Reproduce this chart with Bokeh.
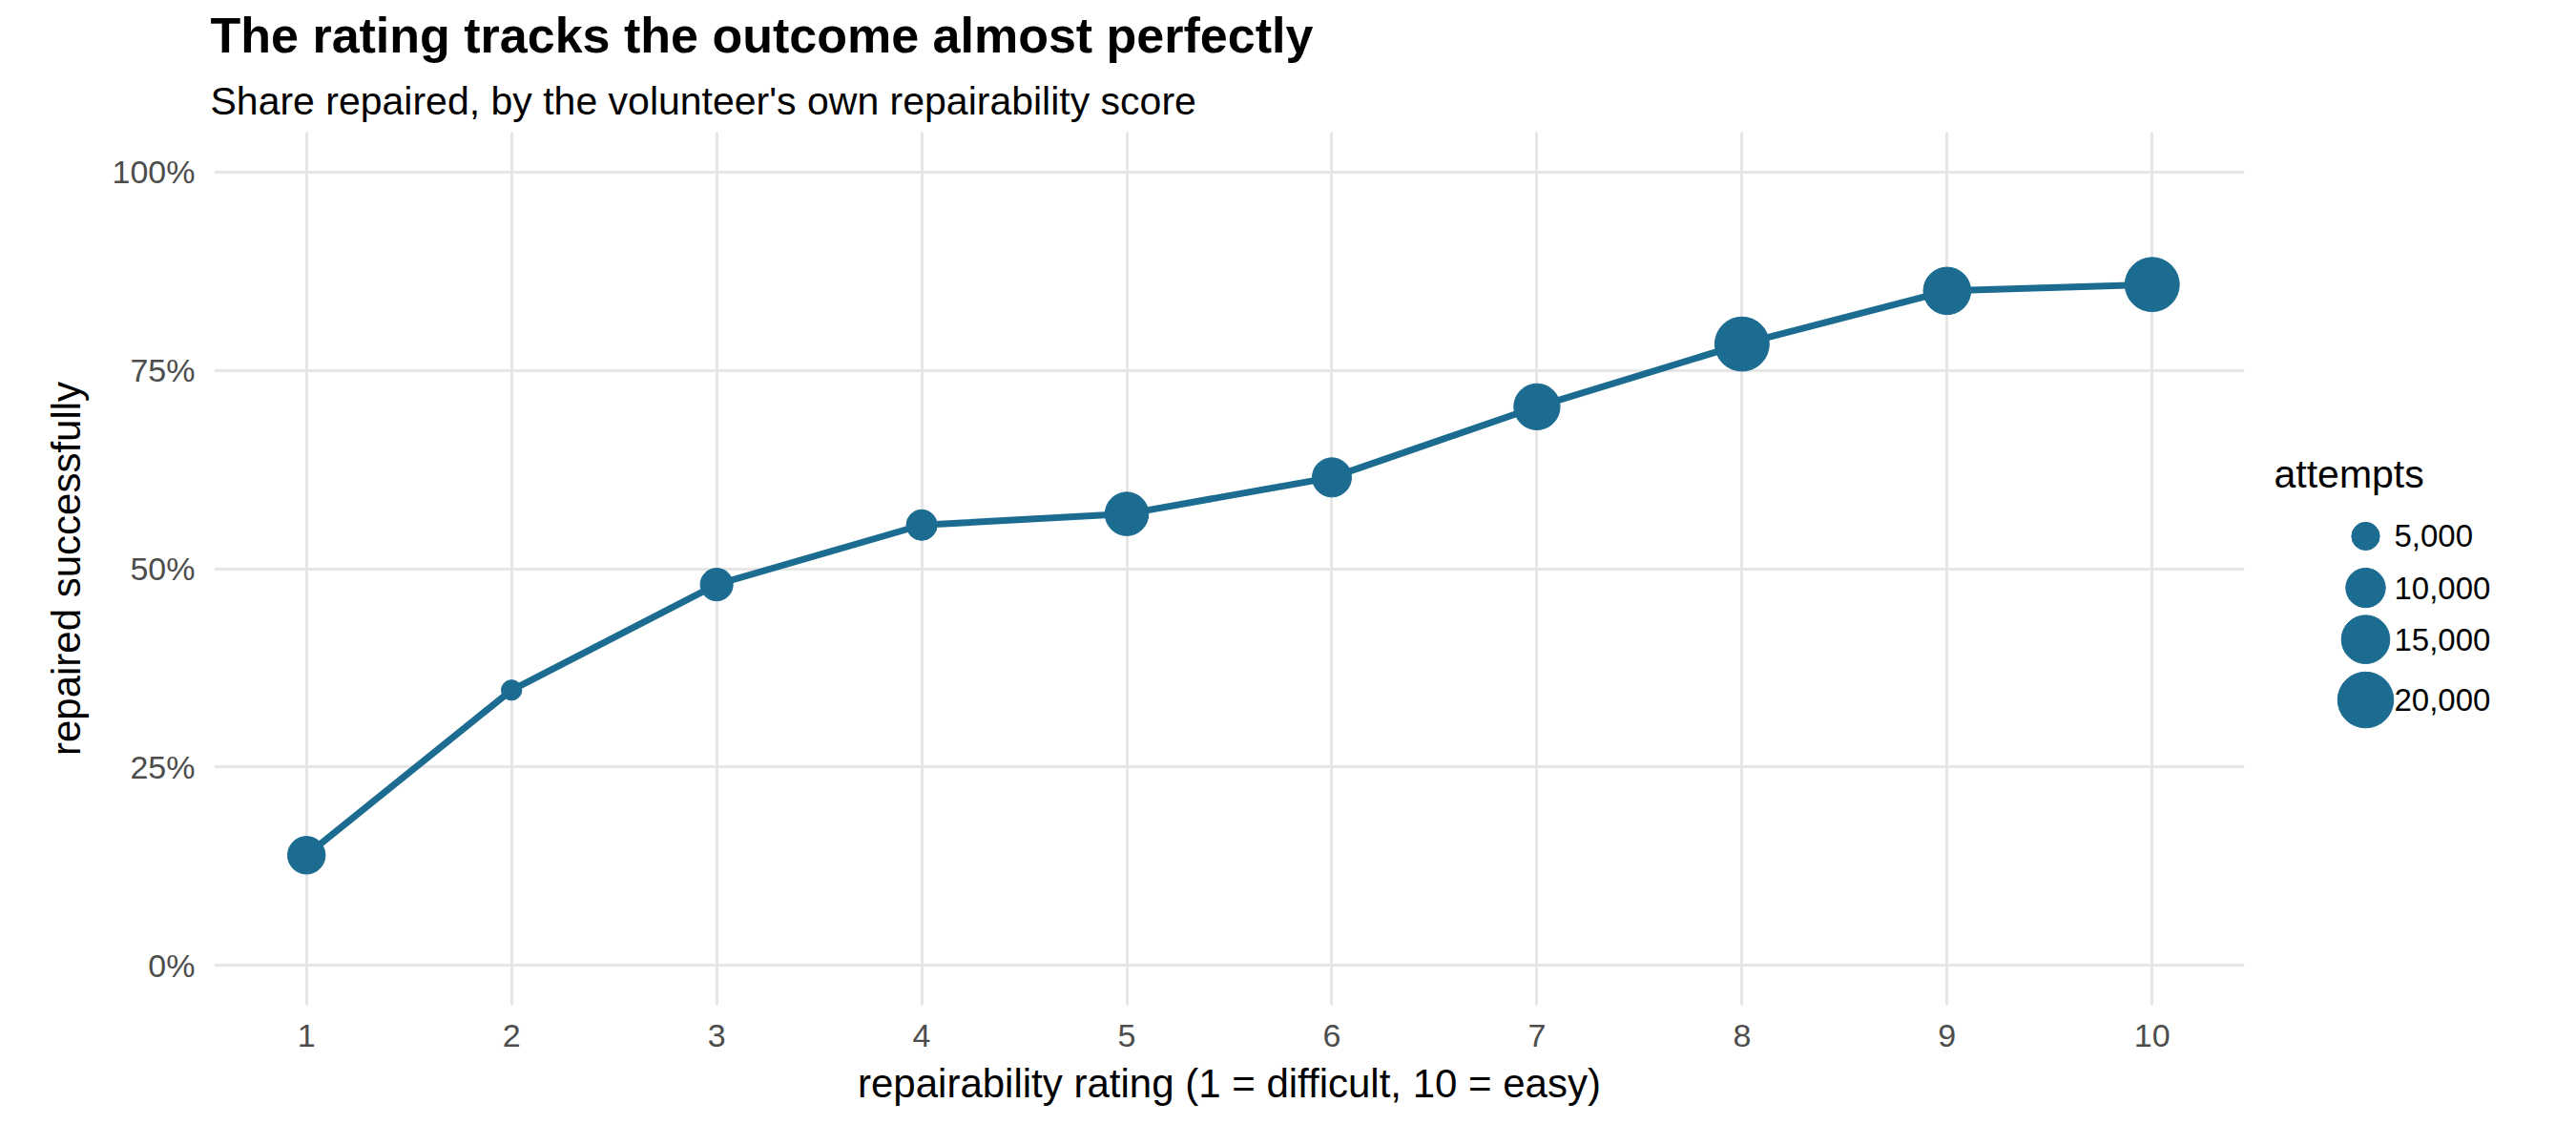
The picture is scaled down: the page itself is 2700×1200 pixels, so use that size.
from bokeh.plotting import figure
from bokeh.models import Range1d, FixedTicker, NumeralTickFormatter, Title, ColumnDataSource
from bokeh.layouts import row
from bokeh.embed import file_html
from bokeh.resources import INLINE
from bokeh.core.properties import value
import numpy as np

rating = [1, 2, 3, 4, 5, 6, 7, 8, 9, 10]
share = [0.139, 0.347, 0.480, 0.555, 0.569, 0.615, 0.704, 0.783, 0.850, 0.858]
attempts = [12000, 3500, 9000, 8000, 16000, 13000, 18000, 25000, 19000, 25000]
legend_vals = [5000, 10000, 15000, 20000]
legend_labels = ["5,000", "10,000", "15,000", "20,000"]

COL = "#1c6c91"
FONT = "Liberation Sans"
K = 0.36

def dia(v, k=K):
    return [k * np.sqrt(x) for x in v]

p = figure(width=2376, height=1184, output_backend="svg", toolbar_location=None,
           x_range=Range1d(0.55, 10.45), y_range=Range1d(-0.05, 1.05),
           min_border_left=224, min_border_right=24, min_border_bottom=131, min_border_top=60)
p.outline_line_color = None
p.title = Title(text="The rating tracks the outcome almost perfectly", text_font=FONT,
                text_font_size="52px", text_font_style="bold", text_color="#000000",
                offset=-4, standoff=10)
p.add_layout(Title(text="Share repaired, by the volunteer's own repairability score",
                   text_font=FONT, text_font_size="41px", text_font_style="normal",
                   text_color="#000000", offset=-4, standoff=20), "above")

src = ColumnDataSource(dict(x=rating, y=share, s=dia(attempts)))
p.line("x", "y", source=src, line_color=COL, line_width=7)
p.scatter("x", "y", size="s", source=src, fill_color=COL, line_color=COL)

for ax in (p.xaxis, p.yaxis):
    ax.axis_line_color = None
    ax.major_tick_line_color = None
    ax.minor_tick_line_color = None
    ax.major_label_text_font = FONT
    ax.major_label_text_font_size = "34px"
    ax.major_label_text_color = "#4d4d4d"
    ax.axis_label_text_font = FONT
    ax.axis_label_text_font_size = "42px"
    ax.axis_label_text_font_style = "normal"
    ax.axis_label_text_color = "#000000"
p.xaxis.ticker = FixedTicker(ticks=rating)
p.yaxis.ticker = FixedTicker(ticks=[0, 0.25, 0.5, 0.75, 1.0])
p.yaxis.formatter = NumeralTickFormatter(format="0%")
p.xaxis.axis_label = "repairability rating (1 = difficult, 10 = easy)"
p.yaxis.axis_label = "repaired successfully"
p.xaxis.major_label_standoff = 14
p.yaxis.major_label_standoff = 14
p.xaxis.axis_label_standoff = 12
p.yaxis.axis_label_standoff = 22
p.xgrid.grid_line_color = "#e6e6e6"
p.ygrid.grid_line_color = "#e6e6e6"
p.xgrid.grid_line_width = 3
p.ygrid.grid_line_width = 3

# legend panel (coordinates in page pixels)
lg = figure(width=308, height=1184, output_backend="svg", toolbar_location=None,
            x_range=Range1d(2384, 2692), y_range=Range1d(1192, 8),
            min_border=0, title=None, x_axis_location=None, y_axis_location=None)
lg.outline_line_color = None
lg.grid.visible = False
ly = [556, 626, 696, 778]
lg.scatter([2487] * 4, ly, size=dia(legend_vals, K * 1.15), fill_color=COL, line_color=COL)
lg.text([2517] * 4, ly, text=legend_labels, text_font=value(FONT), text_font_size="33px",
        text_baseline="middle", text_color="#000000")
lg.text([2391], [472], text=["attempts"], text_font=value(FONT), text_font_size="41px",
        text_baseline="middle", text_color="#000000")

layout = row(p, lg)
open("out.html", "w").write(file_html(layout, INLINE))
